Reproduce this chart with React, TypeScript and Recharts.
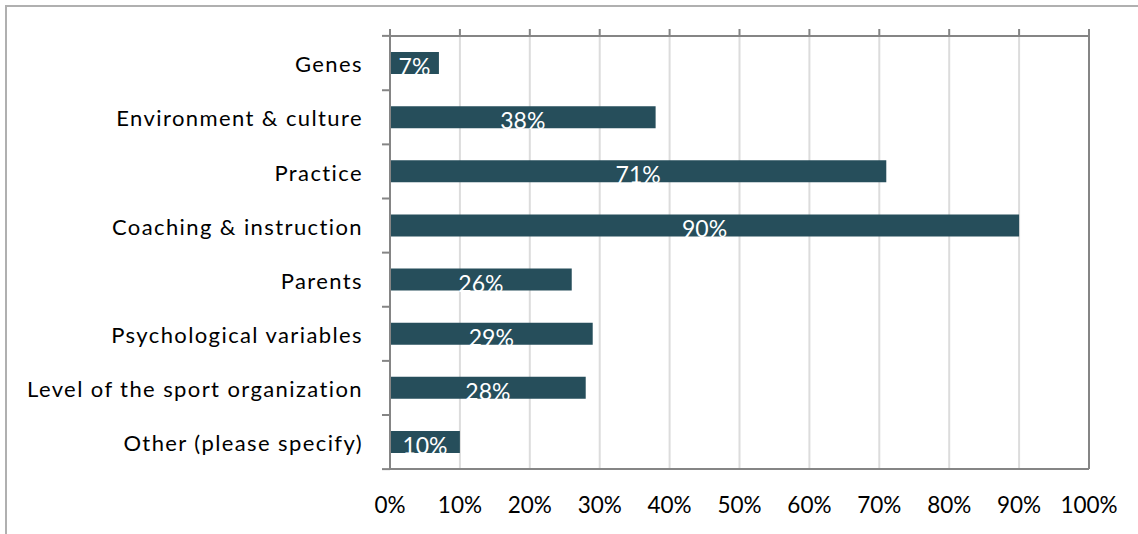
import { BarChart, Bar, XAxis, YAxis, CartesianGrid, LabelList } from 'recharts';

const categories = [
  'Genes',
  'Environment & culture',
  'Practice',
  'Coaching & instruction',
  'Parents',
  'Psychological variables',
  'Level of the sport organization',
  'Other (please specify)',
];
const shares = [7, 38, 71, 90, 26, 29, 28, 10];
const pctTicks = [0, 10, 20, 30, 40, 50, 60, 70, 80, 90, 100];

const data = categories.map((name, i) => ({ name, value: shares[i] }));

const FONT = 'Lato, "Open Sans", sans-serif';
const FRAME = '#858585';
const W = 1138;
const H = 534;
const MARGIN = { top: 35, right: 48, bottom: 64, left: 389 };
const PLOT_H = H - MARGIN.top - MARGIN.bottom;
const Y_TICK_SIZE = 20;
const Y_TICK_MARGIN = 7;

const BarLabel = (props: any) => {
  const { x, y, width, height, value } = props;
  return (
    <text
      x={x + width / 2}
      y={y + height + 1}
      fill="#fff"
      fontSize={23}
      fontFamily={FONT}
      textAnchor="middle"
    >
      {value}%
    </text>
  );
};

// one-line category label plus the small tick marks on the row boundaries
const CategoryTick = (props: any) => {
  const { x, y, payload, index } = props;
  const axisX = x + Y_TICK_SIZE + Y_TICK_MARGIN;
  const half = PLOT_H / categories.length / 2;
  return (
    <g>
      {index === 0 && (
        <line x1={axisX - 8} x2={axisX} y1={y - half} y2={y - half} stroke={FRAME} strokeWidth={2} />
      )}
      <line x1={axisX - 8} x2={axisX} y1={y + half} y2={y + half} stroke={FRAME} strokeWidth={2} />
      <text
        x={x}
        y={y}
        dy="0.42em"
        textAnchor="end"
        fill="#000"
        fontSize={22}
        fontFamily={FONT}
        letterSpacing={1.4}
      >
        {payload.value}
      </text>
    </g>
  );
};

// light gridline with a short tick sticking up above the plot's top edge
const GridLine = (props: any) => {
  const { x1, y1, y2 } = props;
  return (
    <g>
      <line x1={x1} x2={x1} y1={y1} y2={y2} stroke="#dcdcdc" strokeWidth={2} />
      <line x1={x1} x2={x1} y1={y1 - 7} y2={y1} stroke={FRAME} strokeWidth={2} />
    </g>
  );
};

export default function App() {
  return (
    <div style={{ position: 'absolute', left: 0, top: 0, width: W, height: H, background: '#fff' }}>
      <div
        style={{
          position: 'absolute',
          left: 5,
          top: 5,
          right: 0,
          bottom: 0,
          borderTop: '2px solid #b0b0b0',
          borderLeft: '2px solid #b0b0b0',
        }}
      />
      <BarChart
        width={W}
        height={H}
        data={data}
        layout="vertical"
        margin={MARGIN}
        style={{ position: 'absolute', left: 0, top: 0 }}
      >
        <CartesianGrid horizontal={false} vertical={GridLine} />
        <XAxis
          type="number"
          domain={[0, 100]}
          ticks={pctTicks}
          tickFormatter={(v: number) => `${v}%`}
          height={1}
          axisLine={{ stroke: FRAME, strokeWidth: 2 }}
          tickLine={false}
          tickSize={20}
          tickMargin={8}
          tick={{ fill: '#000', fontSize: 22.5, fontFamily: FONT }}
        />
        <XAxis
          xAxisId="top"
          orientation="top"
          type="number"
          domain={[0, 100]}
          height={1}
          axisLine={{ stroke: FRAME, strokeWidth: 2 }}
          tickLine={false}
          tick={false}
        />
        <YAxis
          type="category"
          dataKey="name"
          width={1}
          axisLine={{ stroke: FRAME, strokeWidth: 2 }}
          tickLine={false}
          tickSize={Y_TICK_SIZE}
          tickMargin={Y_TICK_MARGIN}
          interval={0}
          tick={CategoryTick}
        />
        <YAxis
          yAxisId="right"
          orientation="right"
          type="number"
          domain={[0, 8]}
          width={1}
          axisLine={{ stroke: FRAME, strokeWidth: 2 }}
          tickLine={false}
          tick={false}
        />
        <Bar dataKey="value" fill="#264e5b" barSize={22} isAnimationActive={false}>
          <LabelList dataKey="value" content={BarLabel} />
        </Bar>
      </BarChart>
    </div>
  );
}
